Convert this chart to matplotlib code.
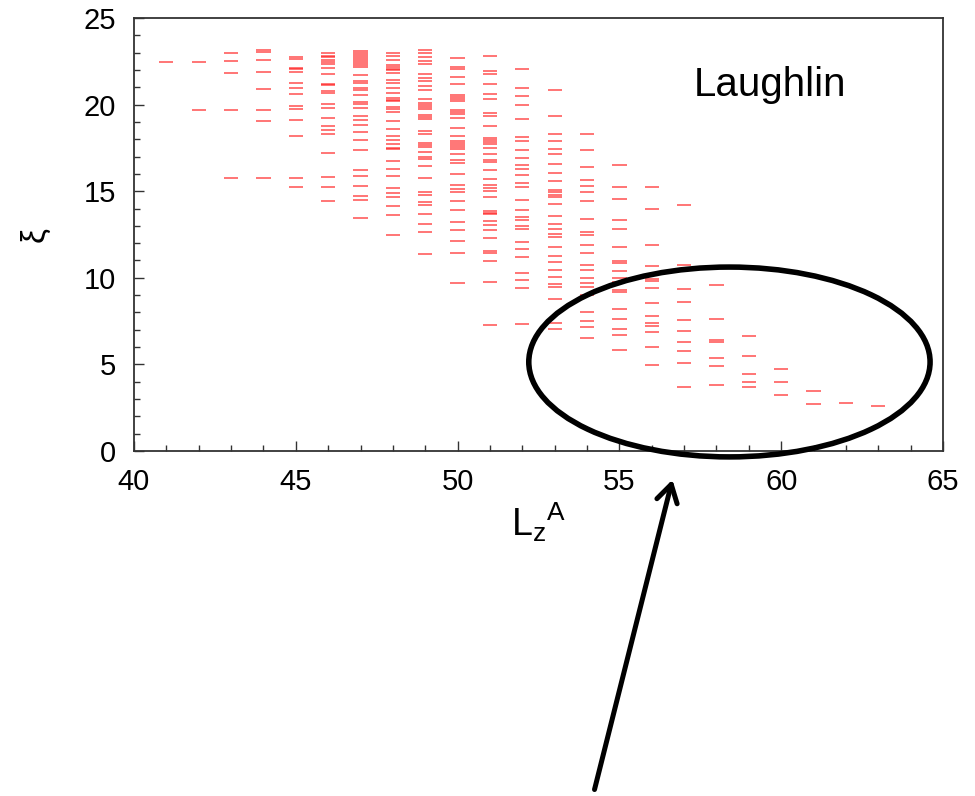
import matplotlib
matplotlib.use("Agg")
import matplotlib.pyplot as plt
from matplotlib.patches import Ellipse
from matplotlib.ticker import MultipleLocator

plt.rcParams['font.family'] = ['Liberation Sans', 'DejaVu Sans']

# entanglement levels xi for each angular momentum sector L_z^A
xi_41 = [22.46]
xi_42 = [22.46, 19.66]
xi_43 = [22.97, 22.52, 21.81, 19.68, 15.75]
xi_44 = [23.15, 23.04, 22.58, 21.87, 20.89, 19.70, 19.04, 15.75]
xi_45 = [22.73, 22.62, 22.14, 22.03, 21.91, 21.25, 20.98, 20.64, 19.89, 19.75,
         19.10, 18.20, 15.77, 15.22]
xi_46 = [22.95, 22.83, 22.72, 22.60, 22.47, 22.33, 22.10, 21.79, 21.21, 21.12,
         20.81, 20.66, 20.04, 19.79, 19.21, 18.74, 18.52, 18.29, 17.23, 15.81,
         15.25, 14.43]
xi_47 = [23.08, 22.96, 22.85, 22.73, 22.62, 22.50, 22.39, 22.27, 22.17, 21.73,
         21.39, 21.23, 20.96, 20.83, 20.56, 20.14, 20.02, 19.81, 19.33, 19.10,
         18.85, 18.41, 17.96, 17.39, 16.20, 15.87, 15.31, 14.73, 14.47, 13.48]
xi_48 = [22.98, 22.79, 22.56, 22.27, 22.17, 22.08, 21.97, 21.85, 21.41, 21.27,
         20.95, 20.66, 20.39, 20.29, 20.18, 19.88, 19.74, 19.56, 19.04, 18.58,
         18.18, 17.93, 17.70, 17.50, 17.41, 16.77, 16.31, 15.85, 15.19, 14.87,
         14.68, 14.17, 13.64, 12.48]
xi_49 = [23.14, 23.00, 22.75, 22.54, 22.35, 21.74, 21.54, 21.35, 21.08, 20.87,
         20.35, 20.10, 19.98, 19.88, 19.77, 19.39, 19.27, 19.14, 18.45, 18.31,
         17.79, 17.67, 17.56, 17.27, 16.98, 16.85, 16.46, 15.74, 14.98, 14.77,
         14.37, 14.20, 13.67, 13.12, 12.62, 11.35]
xi_50 = [22.70, 22.18, 22.04, 21.60, 21.19, 20.58, 20.45, 20.31, 20.18, 19.68,
         19.56, 19.43, 19.23, 18.64, 18.16, 17.91, 17.79, 17.66, 17.53, 17.41,
         17.12, 16.79, 16.60, 15.98, 15.33, 15.14, 14.95, 14.44, 13.90, 13.21,
         12.75, 12.13, 11.41, 9.71]
xi_51 = [22.81, 21.93, 21.77, 21.18, 20.64, 20.33, 19.50, 19.37, 18.77, 18.10,
         17.96, 17.83, 17.70, 17.52, 17.14, 16.79, 16.66, 16.22, 15.70, 15.34,
         15.18, 15.02, 14.67, 13.87, 13.75, 13.66, 13.27, 13.06, 12.77, 12.29,
         11.56, 11.41, 10.96, 9.75, 7.25]
xi_52 = [22.04, 20.93, 20.48, 20.00, 19.16, 18.15, 17.92, 17.36, 16.91, 16.51,
         16.28, 15.95, 15.45, 15.25, 14.48, 13.91, 13.50, 13.31, 12.98, 12.80,
         12.04, 11.66, 11.18, 10.28, 9.85, 9.39, 7.31]
xi_53 = [20.82, 19.33, 18.29, 17.89, 17.43, 17.16, 16.56, 16.06, 15.60, 15.06,
         14.93, 14.77, 14.64, 14.25, 13.58, 13.08, 12.83, 12.52, 12.35, 11.79,
         11.25, 10.91, 10.45, 10.06, 9.66, 9.48, 8.77, 7.37, 7.04]
xi_54 = [18.31, 17.35, 16.39, 15.66, 15.31, 14.95, 14.41, 13.37, 12.64, 12.45,
         11.89, 11.43, 10.73, 10.43, 9.96, 9.71, 9.48, 8.98, 8.04, 7.50, 7.17,
         6.50]
xi_55 = [16.50, 15.25, 14.56, 13.35, 12.79, 11.77, 10.96, 10.83, 10.40, 9.96,
         9.77, 9.30, 9.17, 8.19, 7.63, 7.04, 6.71, 5.83]
xi_56 = [15.25, 14.00, 11.87, 10.71, 9.91, 9.83, 9.42, 8.52, 7.81, 7.40, 7.23,
         6.85, 6.00, 4.98]
xi_57 = [14.18, 10.73, 9.35, 8.58, 7.58, 6.94, 6.27, 5.75, 5.10, 3.71]
xi_58 = [9.56, 7.63, 6.40, 6.27, 5.38, 4.89, 3.83]
xi_59 = [6.64, 5.48, 4.46, 3.96, 3.67]
xi_60 = [4.73, 4.00, 3.25]
xi_61 = [3.48, 2.69]
xi_62 = [2.79]
xi_63 = [2.58]

lz_values = list(range(41, 64))
xi_columns = [xi_41, xi_42, xi_43, xi_44, xi_45, xi_46, xi_47, xi_48, xi_49,
              xi_50, xi_51, xi_52, xi_53, xi_54, xi_55, xi_56, xi_57, xi_58,
              xi_59, xi_60, xi_61, xi_62, xi_63]

# highlighted low-lying branch
ring_center = (58.4, 5.14)
ring_width = 12.4
ring_height = 10.96
arrow_tip = (56.66, -1.5)
arrow_tail = (54.21, -19.7)

fig = plt.figure(figsize=(9.75, 7.96), dpi=100)
ax = fig.add_axes([0.1374, 0.4334, 0.8298, 0.544])

half = 0.22
for lz, levels in zip(lz_values, xi_columns):
    ax.hlines(levels, lz - half, lz + half, colors='#ff1a1a', linewidth=1.2, alpha=0.7)

ax.set_xlim(40, 65)
ax.set_ylim(0, 25)
ax.xaxis.set_major_locator(MultipleLocator(5))
ax.xaxis.set_minor_locator(MultipleLocator(1))
ax.yaxis.set_major_locator(MultipleLocator(5))
ax.yaxis.set_minor_locator(MultipleLocator(1))
ax.tick_params(which='both', direction='in', top=False, right=False, labelsize=21,
               color='#333333', width=1.0)
ax.tick_params(which='major', length=7)
ax.tick_params(which='minor', length=4)
ax.tick_params(axis='x', which='major', pad=12)
ax.tick_params(axis='y', which='major', pad=13)
for s in ax.spines.values():
    s.set_color('#333333')
    s.set_linewidth(1.3)

ax.set_xlabel(r'$\mathregular{{L_z}^A}$', fontsize=27, labelpad=3)
ax.set_ylabel('ξ', fontsize=24, labelpad=24)

ax.text(57.3, 20.5, 'Laughlin', fontsize=29, color='black')

ring = Ellipse(ring_center, ring_width, ring_height, fill=False, edgecolor='black',
               linewidth=4, clip_on=False, zorder=5)
ax.add_patch(ring)

ax.annotate('', xy=arrow_tip, xytext=arrow_tail, xycoords='data', textcoords='data',
            annotation_clip=False,
            arrowprops=dict(arrowstyle='->,head_length=0.5,head_width=0.3',
                            mutation_scale=25, color='black', linewidth=3.6))

fig.savefig('out.png', dpi=100)
